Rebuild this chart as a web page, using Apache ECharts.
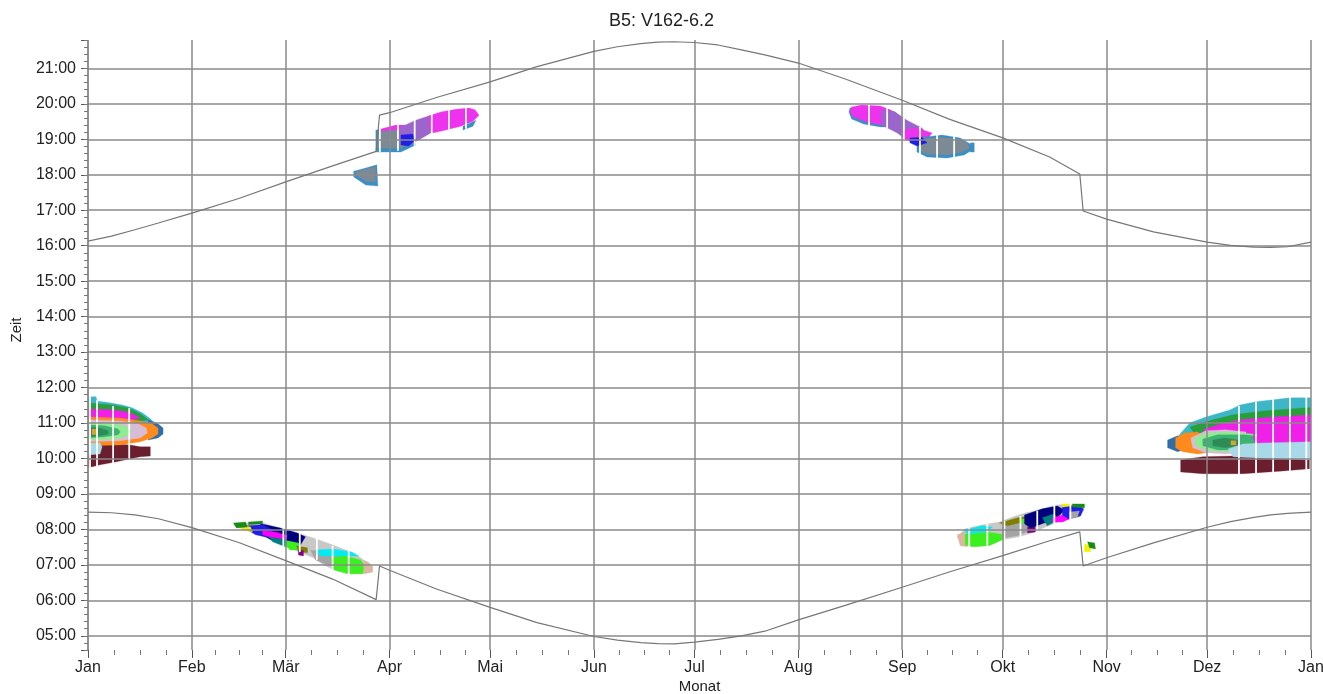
<!DOCTYPE html>
<html><head><meta charset="utf-8">
<script src="https://cdn.jsdelivr.net/npm/echarts@6/dist/echarts.min.js"></script>
<style>html,body{margin:0;padding:0;background:#fff}#c{width:1323px;height:694px}</style>
</head><body><div id="c"></div>
<script>
// ---------- axis / labels ----------
const monthLabels = ['Jan','Feb','Mär','Apr','Mai','Jun','Jul','Aug','Sep','Okt','Nov','Dez'];
const yearStart = '2015-01-01';
const yearEnd = '2016-01-01';

// ---------- sunrise / sunset curves ----------
const curveDates = ['2015-01-01','2015-01-08','2015-01-15','2015-01-22','2015-02-01','2015-02-15','2015-03-01','2015-03-15','2015-03-28','2015-03-29','2015-04-01','2015-04-15','2015-05-01','2015-05-15','2015-06-01','2015-06-08','2015-06-15','2015-06-20','2015-06-25','2015-07-01','2015-07-08','2015-07-15','2015-07-22','2015-08-01','2015-08-15','2015-09-01','2015-09-15','2015-10-01','2015-10-15','2015-10-24','2015-10-25','2015-11-01','2015-11-15','2015-12-01','2015-12-08','2015-12-15','2015-12-20','2015-12-25','2016-01-01'];
const sunsetHours = [16.13,16.27,16.45,16.64,16.92,17.33,17.80,18.25,18.66,19.68,19.75,20.18,20.62,21.05,21.48,21.61,21.70,21.74,21.75,21.73,21.66,21.52,21.38,21.15,20.70,20.10,19.57,19.04,18.50,18.02,16.98,16.75,16.39,16.10,16.01,15.96,15.95,15.97,16.10];
const sunriseHours = [8.49,8.47,8.41,8.30,8.05,7.63,7.12,6.60,6.02,6.97,6.85,6.32,5.80,5.37,4.98,4.88,4.81,4.78,4.77,4.82,4.90,5.00,5.13,5.45,5.86,6.37,6.80,7.26,7.68,7.93,6.97,7.20,7.62,8.06,8.22,8.34,8.41,8.45,8.49];

// ---------- shadow areas: [dayOfYear, hour] outlines ----------
// January
const janMaroon = [[0,10.36],[3.6,10.41],[8.1,10.41],[12.6,10.38],[15.6,10.33],[18.6,10.33],[18.6,10.07],[15.6,10.05],[12.6,9.99],[8.1,9.90],[3.6,9.82],[0,9.74]];
const janCyan = [[0,11.74],[2.4,11.74],[2.7,11.62],[6.6,11.57],[10.2,11.51],[13.2,11.43],[16.2,11.29],[18.6,11.12],[20,10.98],[0,10.75]];
const janGreen = [[0,11.57],[7.2,11.51],[12,11.43],[15.6,11.26],[18,11.09],[0,10.81]];
const janMagenta = [[0,11.40],[8.1,11.37],[12.6,11.29],[15.6,11.14],[0,10.81]];
const janBlueTip = [[18,11.09],[20.9,10.98],[22.4,10.86],[22.4,10.69],[20.9,10.58],[18,10.52]];
const janOrange = [[0,11.17],[9.6,11.14],[15.6,11.06],[19.1,10.98],[20.9,10.86],[20.9,10.69],[19.1,10.58],[15.6,10.47],[9.6,10.38],[0,10.36]];
const janPink = [[0,11.09],[9.6,11.06],[15,10.98],[17.4,10.86],[17.7,10.72],[15.6,10.58],[9.6,10.50],[0,10.47]];
const janLightGreen = [[0,11.0],[8.1,10.98],[12,10.89],[13.2,10.78],[12,10.64],[8.1,10.55],[0,10.52]];
const janMidGreen = [[0,10.95],[5.1,10.92],[9,10.83],[9.6,10.75],[9,10.67],[5.1,10.61],[0,10.58]];
const janDarkGreen = [[0,10.89],[3.6,10.86],[6,10.78],[6,10.69],[3.6,10.64],[0,10.61]];
const janGold = [[1.2,10.83],[2.7,10.83],[2.7,10.67],[1.2,10.67]];
const janMagentaCore = [[0,10.83],[0.9,10.83],[0.9,10.67],[0,10.67]];
const janLightBlue = [[0,10.44],[3.6,10.44],[4.2,10.33],[3.6,10.13],[0,10.10]];
// December
const decMaroon = [[326.1,9.96],[332.7,10.05],[341.7,10.07],[353.7,10.05],[364.5,10.02],[364.5,9.71],[356.7,9.65],[344.7,9.57],[332.7,9.57],[326.1,9.62]];
const decCyan = [[325.2,10.61],[328.8,11.0],[333.6,11.17],[340.8,11.37],[343.8,11.51],[348.6,11.60],[358.7,11.71],[365,11.71],[365,10.52],[332.7,10.38]];
const decGreen = [[328.8,10.89],[335.7,11.09],[341.7,11.23],[350.7,11.34],[363.6,11.43],[365,11.43],[365,10.52],[332.7,10.38]];
const decMagenta = [[332.7,10.81],[337.2,10.95],[343.8,11.09],[353.7,11.17],[365,11.23],[365,10.38],[339.6,10.30]];
const decBlueTip = [[322.2,10.52],[325.2,10.64],[326.7,10.52],[326.7,10.24],[325.2,10.19],[322.2,10.30]];
const decOrange = [[324.6,10.58],[327.3,10.72],[331.2,10.75],[334.2,10.52],[335.7,10.19],[331.2,10.13],[326.7,10.19],[324.6,10.30]];
const decPink = [[329.1,10.58],[333.6,10.78],[339.6,10.81],[345.6,10.75],[345.6,10.19],[339.6,10.13],[333.6,10.16],[329.7,10.30]];
const decLightGreen = [[330.3,10.58],[334.2,10.72],[340.2,10.75],[347.7,10.69],[347.7,10.24],[340.2,10.19],[334.2,10.22],[330.6,10.36]];
const decMidGreen = [[332.7,10.55],[337.2,10.67],[344.7,10.67],[352.2,10.61],[352.2,10.33],[344.7,10.24],[337.2,10.24],[332.7,10.36]];
const decDarkGreen = [[335.7,10.52],[339.3,10.58],[343.2,10.52],[343.2,10.36],[339.3,10.30],[335.7,10.36]];
const decGold = [[341.1,10.50],[342.6,10.50],[342.6,10.38],[341.1,10.38]];
const decMagentaInner = [[347.7,10.61],[356.7,10.75],[365,10.81],[365,10.47],[356.7,10.44],[348.3,10.41]];
const decLightBlue = [[340.2,10.27],[344.7,10.41],[350.7,10.44],[365,10.47],[365,9.96],[356.7,9.99],[347.7,10.02],[341.7,10.05]];
// March (morning)
const marOutline = [[43.4,8.13],[47.9,8.18],[52.4,8.18],[57.4,8.04],[62.5,7.90],[67.3,7.76],[71.5,7.62],[74.5,7.51],[76.9,7.42],[79.3,7.34],[82.3,7.14],[83.5,7.09],[85.0,6.94],[85.0,6.80],[82.3,6.75],[77.5,6.75],[73.3,6.86],[70.3,7.00],[67.3,7.20],[63.4,7.34],[59.5,7.51],[56.5,7.65],[52.4,7.79],[49.4,7.90],[45.5,8.04]];
const marNavy = [[51.5,8.16],[57.4,8.04],[62.5,7.90],[64.9,7.79],[63.4,7.56],[58.9,7.56],[54.5,7.71],[50.9,7.93]];
const marBlue = [[47.6,8.10],[52.1,8.13],[55.1,7.99],[54.5,7.76],[50.0,7.85],[47.6,7.99]];
const marMagenta = [[52.1,7.96],[56.0,7.93],[59.5,7.82],[58.9,7.71],[55.1,7.76],[52.1,7.85]];
const marTeal = [[53.9,7.79],[58.9,7.71],[61.0,7.59],[58.9,7.51],[55.1,7.65]];
const marLimeSmall = [[59.5,7.68],[62.8,7.62],[63.4,7.42],[60.4,7.42],[58.9,7.54]];
const marOlive = [[62.2,7.54],[65.5,7.48],[65.5,7.34],[62.8,7.37]];
const marPurple = [[62.8,7.42],[64.3,7.40],[64.3,7.25],[62.8,7.28]];
const marGray = [[66.4,7.42],[72.4,7.34],[76.9,7.25],[76.9,7.00],[72.4,6.97],[67.9,7.14]];
const marCyan = [[67.9,7.42],[73.0,7.45],[78.4,7.37],[80.8,7.25],[75.4,7.25],[69.4,7.25]];
const marLime = [[72.4,7.20],[76.9,7.25],[81.4,7.14],[82.6,6.97],[82.0,6.75],[77.5,6.75],[73.3,6.86]];
const marTan = [[82.3,7.11],[83.8,7.06],[85.0,6.94],[84.7,6.80],[82.3,6.75]];
const marYellow = [[44.9,8.13],[48.5,8.07],[49.1,7.93],[46.1,7.99]];
const marDarkGreenA = [[43.4,8.18],[47.0,8.21],[47.6,8.07],[44.3,8.04]];
const marDarkGreenB = [[47.9,8.21],[52.1,8.24],[52.1,8.16],[47.9,8.13]];
// October (morning)
const octOutline = [[259.4,7.79],[261.8,8.02],[266.9,8.13],[272.0,8.21],[275.9,8.35],[279.8,8.47],[283.9,8.55],[288.7,8.69],[293.8,8.72],[296.8,8.69],[297.4,8.55],[295.9,8.35],[291.7,8.27],[285.7,8.07],[282.7,7.93],[278.0,7.79],[272.9,7.71],[269.0,7.56],[264.8,7.51],[260.9,7.56]];
const octTan = [[259.4,7.85],[261.8,7.93],[262.4,7.51],[260.3,7.54]];
const octLime = [[261.8,7.87],[268.4,7.93],[273.5,7.85],[272.9,7.71],[269.0,7.54],[263.9,7.51],[261.8,7.56]];
const octCyanA = [[261.5,7.99],[266.9,8.10],[269.9,8.07],[268.4,7.93],[262.4,7.87]];
const octCyanB = [[272.9,7.99],[275.9,8.04],[276.5,7.90],[273.5,7.85]];
const octGray = [[272.9,8.13],[278.9,8.30],[281.9,8.27],[281.9,7.99],[277.4,7.82],[272.9,7.76]];
const octOlive = [[272.0,8.18],[277.4,8.33],[281.0,8.38],[280.4,8.24],[274.4,8.10]];
const octLimeSmall = [[278.0,8.27],[282.7,8.38],[283.3,8.24],[278.9,8.16]];
const octPurple = [[280.4,8.07],[282.7,8.10],[282.7,7.93],[280.4,7.90]];
const octNavy = [[279.5,8.41],[284.8,8.58],[289.3,8.66],[291.4,8.55],[289.3,8.33],[284.8,8.16],[281.3,8.04],[279.5,8.16]];
const octTeal = [[284.8,8.33],[288.4,8.44],[289.6,8.27],[286.3,8.10]];
const octMagenta = [[287.8,8.33],[292.3,8.44],[293.8,8.33],[290.8,8.21],[287.8,8.21]];
const octBlue = [[290.8,8.63],[295.3,8.69],[297.1,8.58],[296.2,8.38],[292.6,8.30],[290.8,8.41]];
const octGrayRight = [[292.9,8.49],[295.9,8.52],[295.3,8.35],[292.9,8.30]];
const octYellow = [[290.8,8.72],[293.2,8.72],[293.2,8.66],[290.8,8.63]];
const octDarkGreen = [[293.8,8.72],[297.4,8.72],[297.4,8.61],[293.8,8.63]];
const octSmallYellow = [[297.4,7.59],[299.2,7.54],[299.2,7.37],[297.4,7.37]];
const octSmallGreen = [[298.3,7.65],[300.4,7.62],[300.7,7.45],[298.9,7.48]];
// April (evening)
const aprSmallBlue = [[79.3,18.10],[82.9,18.19],[86.2,18.28],[86.5,17.68],[82.9,17.71],[79.3,17.94]];
const aprSmallGray = [[79.9,18.07],[82.9,18.16],[85.9,18.22],[85.9,17.80],[82.9,17.82],[79.9,17.99]];
const aprBlueEdge = [[85.9,19.26],[96.9,19.37],[97.8,18.84],[93.4,18.64],[85.9,18.64]];
const aprGray = [[86.5,19.23],[91.9,19.32],[96.9,19.34],[96.9,18.90],[93.4,18.75],[86.5,18.75]];
const aprMagentaTop = [[87.4,19.29],[91.9,19.40],[95.4,19.40],[95.4,19.29],[87.4,19.23]];
const aprPurple = [[92.8,19.32],[97.8,19.54],[102.3,19.68],[105.3,19.74],[106.8,19.40],[102.3,19.18],[98.7,18.98],[94.9,18.81],[92.8,18.98]];
const aprBlue = [[93.4,19.12],[96.9,19.15],[97.8,18.98],[95.7,18.81],[93.4,18.84]];
const aprMagenta = [[101.7,19.66],[105.3,19.77],[109.8,19.85],[113.7,19.88],[115.5,19.83],[116.7,19.68],[114.9,19.51],[111.3,19.37],[106.8,19.26],[102.9,19.18],[101.7,19.32]];
const aprEdge = [[111.9,19.37],[115.8,19.54],[114.9,19.37],[111.9,19.26]];
// September (evening)
const sepBlueEdge = [[227.4,19.88],[230.9,19.94],[236.9,19.91],[240.9,19.77],[242.1,19.63],[240.9,19.35],[236.4,19.35],[231.5,19.43],[227.9,19.57],[227.1,19.77]];
const sepMagenta = [[227.9,19.91],[230.9,19.97],[236.4,19.94],[239.4,19.83],[242.1,19.66],[240.9,19.40],[236.9,19.40],[232.4,19.49],[228.5,19.63],[227.4,19.77]];
const sepPurple = [[236.9,19.83],[240.9,19.77],[244.4,19.54],[248.9,19.32],[250.4,19.12],[248.3,18.92],[244.4,18.98],[241.5,19.18],[236.9,19.40]];
const sepMagentaLow = [[243.0,19.26],[247.4,19.32],[251.9,19.18],[250.4,18.98],[245.9,18.92],[243.0,19.04]];
const sepBlueUnder = [[247.4,19.04],[254.9,19.12],[260.3,19.04],[263.3,18.87],[263.9,18.70],[261.5,18.56],[256.4,18.47],[250.4,18.50],[247.4,18.64]];
const sepGray = [[248.0,18.98],[253.4,19.06],[259.4,19.01],[262.4,18.90],[263.0,18.75],[260.9,18.64],[256.4,18.56],[250.4,18.58],[248.0,18.70]];
const sepBlue = [[245.3,19.04],[248.9,19.06],[250.4,18.90],[247.4,18.81],[245.3,18.90]];
const sepBlueBar = [[263.3,18.90],[264.5,18.90],[264.5,18.64],[263.3,18.64]];

// days without shadow inside the areas: [dayOfYear, fromHour, toHour]
const gapDays = [
  [0.6,11.76,9.72],[2.7,11.64,9.78],[7.5,11.48,9.84],[12.3,11.42,9.93],
  [58.3,8.10,7.48],[63.2,7.96,7.36],[68.3,7.78,7.14],[73.0,7.54,6.86],[77.8,7.44,6.72],
  [87.1,19.36,18.64],[92.5,19.42,18.68],[97.5,19.62,18.82],[102.6,19.77,19.12],[107.7,19.88,19.22],[112.8,19.91,19.30],
  [233.1,19.98,19.36],[238.5,19.94,19.32],[243.5,19.62,18.92],[248.3,19.35,18.52],[253.4,19.15,18.46],[258.5,19.09,18.46],
  [263.0,8.07,7.48],[268.4,8.16,7.50],[273.5,8.24,7.66],[278.3,8.38,7.76],[283.3,8.53,7.90],[288.4,8.70,8.06],[293.2,8.76,8.20],
  [343.5,11.48,9.54],[348.6,11.60,9.56],[353.7,11.68,9.58],[358.7,11.74,9.64],[363.6,11.75,9.66]
];

// ---------- styling ----------
const C = {
  maroon:'#6b1e2d', cyan:'#3db6c8', green:'#27a03b', magenta:'#f020e8', steel:'#2f6ea8',
  orange:'#ff8a1c', pink:'#d8bcd6', lightGreen:'#90ec90', midGreen:'#3cb371', darkGreen:'#2e8b57',
  gold:'#d4a72c', lightBlue:'#a9d8e8', gray:'#c8c8c8', navy:'#00007f', blue:'#1e1ee8',
  pureMagenta:'#ff00ff', teal:'#007f7f', lime:'#3cf020', olive:'#7f7f00', purple:'#7f007f',
  midGray:'#a4a4a4', aqua:'#00ecf2', tan:'#dcb69e', yellow:'#f2f200', grassGreen:'#178a17',
  slate:'#7c8a95', steelLight:'#3a8fc4', medPurple:'#9a66cc', pink2:'#ee33ee'
};
const FONT = 'Liberation Sans, Arial, sans-serif';

const layers = [
  [janMaroon,C.maroon],[janCyan,C.cyan],[janGreen,C.green],[janMagenta,C.magenta],[janBlueTip,C.steel],
  [janOrange,C.orange],[janPink,C.pink],[janLightGreen,C.lightGreen],[janMidGreen,C.midGreen],
  [janDarkGreen,C.darkGreen],[janGold,C.gold],[janMagentaCore,C.magenta],[janLightBlue,C.lightBlue],
  [decMaroon,C.maroon],[decCyan,C.cyan],[decGreen,C.green],[decMagenta,C.magenta],[decBlueTip,C.steel],
  [decOrange,C.orange],[decPink,C.pink],[decLightGreen,C.lightGreen],[decMidGreen,C.midGreen],
  [decDarkGreen,C.darkGreen],[decGold,C.gold],[decMagentaInner,C.magenta],[decLightBlue,C.lightBlue],
  [marOutline,C.gray],[marNavy,C.navy],[marBlue,C.blue],[marMagenta,C.pureMagenta],[marTeal,C.teal],
  [marLimeSmall,C.lime],[marOlive,C.olive],[marPurple,C.purple],[marGray,C.midGray],[marCyan,C.aqua],
  [marLime,C.lime],[marTan,C.tan],[marYellow,C.yellow],[marDarkGreenA,C.grassGreen],[marDarkGreenB,C.grassGreen],
  [octOutline,C.gray],[octTan,C.tan],[octLime,C.lime],[octCyanA,C.aqua],[octCyanB,C.aqua],[octGray,C.midGray],
  [octOlive,C.olive],[octLimeSmall,C.lime],[octPurple,C.purple],[octNavy,C.navy],[octTeal,C.teal],
  [octMagenta,C.pureMagenta],[octBlue,C.blue],[octGrayRight,C.midGray],[octYellow,C.yellow],[octDarkGreen,C.grassGreen],
  [octSmallYellow,C.yellow],[octSmallGreen,C.grassGreen],
  [aprSmallBlue,C.steelLight],[aprSmallGray,C.slate],[aprBlueEdge,C.steelLight],[aprGray,C.slate],
  [aprMagentaTop,C.pink2],[aprPurple,C.medPurple],[aprBlue,C.blue],[aprMagenta,C.pink2],[aprEdge,C.steelLight],
  [sepBlueEdge,C.steelLight],[sepMagenta,C.pink2],[sepPurple,C.medPurple],[sepMagentaLow,C.pink2],
  [sepBlueUnder,C.steelLight],[sepGray,C.slate],[sepBlue,C.blue],[sepBlueBar,C.steelLight]
];

const t0 = new Date(2015,0,1).getTime();
const DAY = 86400000;
const dayToTs = d => t0 + d * DAY;
const pad = n => (n < 10 ? '0' : '') + n;

const chart = echarts.init(document.getElementById('c'), null, {renderer:'canvas'});
chart.setOption({
  animation:false,
  backgroundColor:'#ffffff',
  title:{text:'B5: V162-6.2', left:'center', top:7,
    textStyle:{fontSize:18, fontWeight:'normal', color:'#222', fontFamily:FONT}},
  grid:{left:88, right:12, top:40, bottom:44, containLabel:false, outerBoundsMode:'none'},
  xAxis:{
    type:'time', min:yearStart, max:yearEnd,
    minInterval:28*DAY, maxInterval:31*DAY,
    axisLine:{show:false},
    axisTick:{show:true, length:8, lineStyle:{color:'#555', width:1}},
    minorTick:{show:true, splitNumber:4, length:5, lineStyle:{color:'#777', width:1}},
    axisLabel:{formatter:v => monthLabels[new Date(v).getMonth()], fontSize:16, color:'#222',
      margin:10, fontFamily:FONT, hideOverlap:false, showMinLabel:true, showMaxLabel:true},
    splitLine:{show:true, lineStyle:{color:'#8a8a8a', width:1.5}},
    minorSplitLine:{show:false},
    name:'Monat', nameLocation:'middle', nameGap:29, nameMoveOverlap:false,
    nameTextStyle:{fontSize:15, color:'#222', fontFamily:FONT}
  },
  yAxis:[{
    type:'value', min:4.6, max:21.8, splitNumber:16,
    axisLine:{show:false},
    axisTick:{show:true, length:7, lineStyle:{color:'#555', width:1}},
    axisLabel:{formatter:v => Math.abs(v - Math.round(v)) < 1e-6 ? pad(Math.round(v)) + ':00' : '',
      fontSize:16, color:'#222', margin:12, fontFamily:FONT},
    splitLine:{show:true, showMinLine:false, showMaxLine:false, lineStyle:{color:'#8a8a8a', width:1.5}},
    name:'Zeit', nameLocation:'middle', nameGap:64, nameRotate:90, nameMoveOverlap:false,
    nameTextStyle:{fontSize:15, color:'#222', fontFamily:FONT, padding:[0,0,0,30]}
  },{
    type:'value', min:4.6, max:21.8, interval:0.2, position:'left', offset:0,
    axisLine:{show:false}, axisLabel:{show:false}, splitLine:{show:false},
    axisTick:{show:true, length:4, lineStyle:{color:'#777', width:1}}
  }],
  series:[
    {
      type:'custom', name:'areas', z:-2, silent:true, clip:true,
      data: layers.map((l,i) => [dayToTs(l[0][0][0]), l[0][0][1], i]),
      renderItem:(params, api) => {
        const L = layers[params.dataIndex];
        const pts = L[0].map(p => api.coord([dayToTs(p[0]), p[1]]));
        return {type:'polygon', shape:{points:pts}, style:{fill:L[1], stroke:L[1], lineWidth:0.3}};
      }
    },
    {
      type:'custom', name:'gaps', z:-1, silent:true, clip:true,
      data: gapDays.map(g => [dayToTs(g[0]), g[1], g[2]]),
      renderItem:(params, api) => {
        const a = api.coord([api.value(0), api.value(1)]);
        const b = api.coord([api.value(0), api.value(2)]);
        return {type:'rect', shape:{x:a[0]-0.9, y:a[1], width:1.8, height:b[1]-a[1]}, style:{fill:'#ffffff'}};
      }
    },
    {
      type:'line', name:'Sonnenuntergang', symbol:'none', silent:true, z:3,
      data: curveDates.map((d,i) => [d, sunsetHours[i]]),
      lineStyle:{color:'#777', width:1.2}
    },
    {
      type:'line', name:'Sonnenaufgang', symbol:'none', silent:true, z:3,
      data: curveDates.map((d,i) => [d, sunriseHours[i]]),
      lineStyle:{color:'#777', width:1.2}
    }
  ]
});
</script>
</body></html>
